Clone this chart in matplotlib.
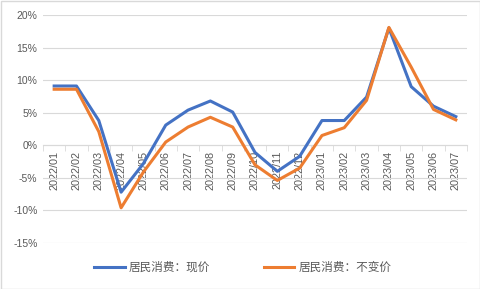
import matplotlib
matplotlib.use("Agg")
import matplotlib.pyplot as plt
from matplotlib.patches import Rectangle

plt.rcParams['font.family'] = ['Liberation Sans', 'Noto Sans CJK SC', 'DejaVu Sans']

months = ["2022/01", "2022/02", "2022/03", "2022/04", "2022/05", "2022/06", "2022/07",
          "2022/08", "2022/09", "2022/10", "2022/11", "2022/12", "2023/01", "2023/02",
          "2023/03", "2023/04", "2023/05", "2023/06", "2023/07"]
nominal = [9.1, 9.1, 3.8, -7.2, -2.8, 3.1, 5.4, 6.8, 5.1, -1.1, -4.0, -1.7, 3.8, 3.8,
           7.4, 18.0, 9.0, 6.0, 4.4]
real = [8.6, 8.6, 2.1, -9.6, -4.1, 0.5, 2.8, 4.3, 2.8, -3.0, -5.4, -3.5, 1.5, 2.7,
        6.9, 18.1, 12.0, 5.5, 3.9]
label_nominal = "居民消费：现价"
label_real = "居民消费：不变价"
yticks = [-15, -10, -5, 0, 5, 10, 15, 20]

fig = plt.figure(figsize=(4.81, 2.89), dpi=100)
ax = fig.add_axes([43/481, 1-243/289, (467-43)/481, (243-15)/289])

x = list(range(len(months)))
ax.plot(x, nominal, color="#4472C4", lw=2.2, label=label_nominal, zorder=3)
ax.plot(x, real, color="#ED7D31", lw=2.2, label=label_real, zorder=3)

ax.set_ylim(-15, 20)
ax.set_xlim(-0.5, len(months) - 0.5)
ax.set_yticks(yticks)
ax.set_yticklabels([f"{v}%" for v in yticks])
ax.yaxis.grid(True, color="#D9D9D9", lw=0.8)
ax.set_axisbelow(True)
ax.tick_params(axis='y', length=0, labelsize=7.5, labelcolor="#595959", pad=4)

ax.set_xticks(x)
ax.set_xticklabels(months)
ax.set_xticks([i - 0.5 for i in range(len(months) + 1)], minor=True)
ax.tick_params(axis='x', which='major', length=0, labelsize=7.8, labelcolor="#595959",
               pad=4, labelrotation=90)
ax.tick_params(axis='x', which='minor', length=4, color="#D9D9D9", direction='out')

for s in ['top', 'right', 'left']:
    ax.spines[s].set_visible(False)
ax.spines['bottom'].set_position(('data', 0))
ax.spines['bottom'].set_color("#D9D9D9")
ax.spines['bottom'].set_linewidth(0.8)

leg = fig.legend(loc='center', bbox_to_anchor=(0.505, 1-268/289), ncol=2, frameon=False,
                 fontsize=8.4, handlelength=2.6, columnspacing=4.6, handletextpad=0.35)
for t in leg.get_texts():
    t.set_color("#595959")

fig.patches.append(Rectangle((0.5/481, 0.5/289), 1-1/481, 1-1/289, transform=fig.transFigure,
                             fill=False, edgecolor="#D9D9D9", lw=1))

fig.savefig("out.png", dpi=100, facecolor="white")
